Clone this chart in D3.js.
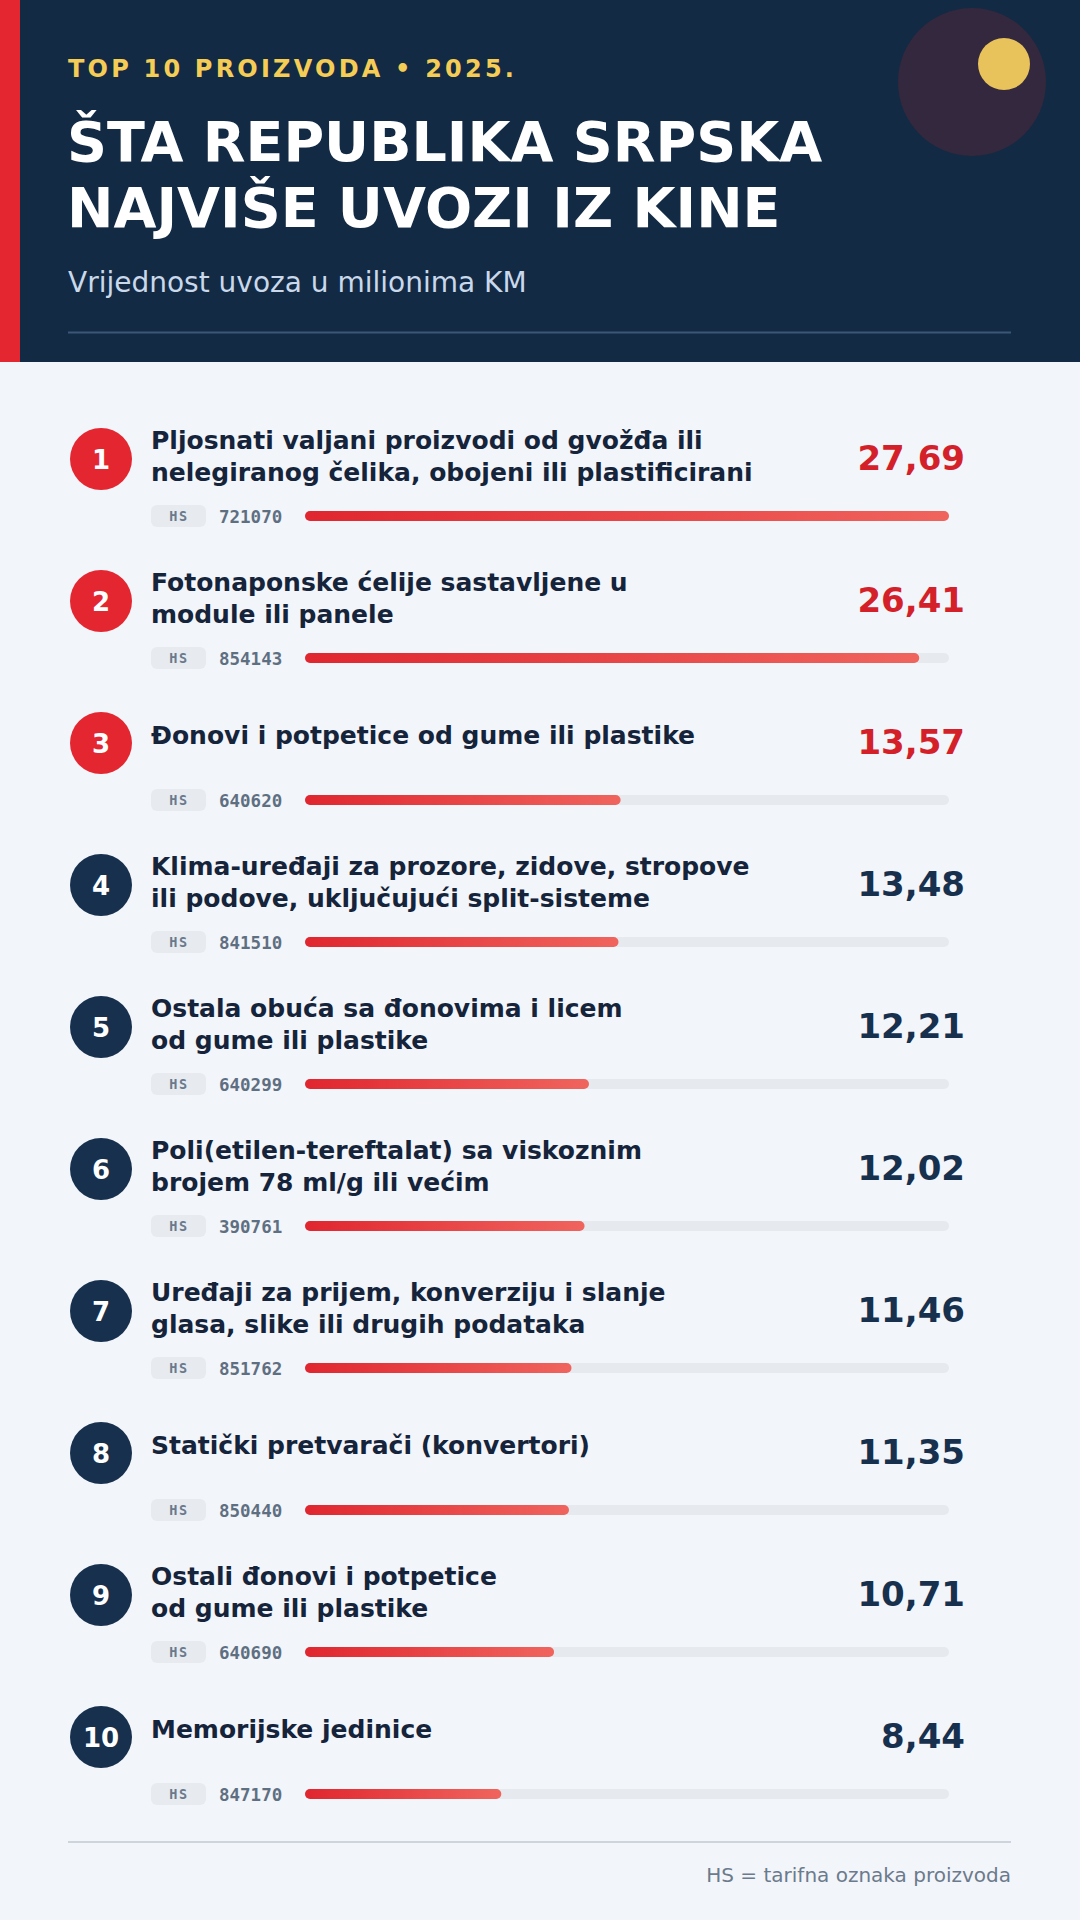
<!DOCTYPE html>
<html>
<head>
<meta charset="utf-8">
<script src="https://cdn.jsdelivr.net/npm/d3@7"></script>
<style>
    html, body { margin: 0; padding: 0; background: #f2f5f9; }
    svg { display: block; font-family: "DejaVu Sans", sans-serif; }
</style>
</head>
<body>
<div id="chart"></div>
<script>
const ranks = [1, 2, 3, 4, 5, 6, 7, 8, 9, 10];
const products = [
    ["Pljosnati valjani proizvodi od gvožđa ili", "nelegiranog čelika, obojeni ili plastificirani"],
    ["Fotonaponske ćelije sastavljene u", "module ili panele"],
    ["Đonovi i potpetice od gume ili plastike"],
    ["Klima-uređaji za prozore, zidove, stropove", "ili podove, uključujući split-sisteme"],
    ["Ostala obuća sa đonovima i licem", "od gume ili plastike"],
    ["Poli(etilen-tereftalat) sa viskoznim", "brojem 78 ml/g ili većim"],
    ["Uređaji za prijem, konverziju i slanje", "glasa, slike ili drugih podataka"],
    ["Statički pretvarači (konvertori)"],
    ["Ostali đonovi i potpetice", "od gume ili plastike"],
    ["Memorijske jedinice"]
];
const hsCodes = ["721070", "854143", "640620", "841510", "640299", "390761", "851762", "850440", "640690", "847170"];
const values = [27.69, 26.41, 13.57, 13.48, 12.21, 12.02, 11.46, 11.35, 10.71, 8.44];

const width = 1080, height = 1920;
const headerH = 362;

const rows = ranks.map((r, i) => ({ rank: r, lines: products[i], hs: hsCodes[i], value: values[i] }));

const locale = d3.formatLocale({ decimal: ",", thousands: ".", grouping: [3], currency: ["", " KM"] });
const fmt = locale.format(".2f");

const y = d3.scalePoint().domain(ranks).range([459, 1737]);
const x = d3.scaleLinear().domain([0, d3.max(values)]).range([0, 644]);
const barX = 305;

const svg = d3.select("#chart").append("svg")
    .attr("width", width)
    .attr("height", height);

svg.append("rect").attr("width", width).attr("height", height).attr("fill", "#f2f5f9");

// gradient for bars
const defs = svg.append("defs");
const grad = defs.append("linearGradient").attr("id", "barGrad")
    .attr("x1", "0%").attr("x2", "100%").attr("y1", "0%").attr("y2", "0%");
grad.append("stop").attr("offset", "0%").attr("stop-color", "#e0262f");
grad.append("stop").attr("offset", "100%").attr("stop-color", "#f0645e");

// header block
const header = svg.append("g");
header.append("rect").attr("width", width).attr("height", headerH).attr("fill", "#132a44");
header.append("rect").attr("width", 20).attr("height", headerH).attr("fill", "#e3262f");
header.append("circle").attr("cx", 972).attr("cy", 82).attr("r", 74).attr("fill", "#33283d");
header.append("circle").attr("cx", 1004).attr("cy", 64).attr("r", 26).attr("fill", "#e8c25a");

header.append("text")
    .attr("x", 68).attr("y", 77)
    .attr("fill", "#f5cd55")
    .attr("font-size", 24).attr("font-weight", "bold")
    .attr("letter-spacing", 3.2)
    .text("TOP 10 PROIZVODA • 2025.");

header.append("text")
    .attr("x", 67).attr("y", 161)
    .attr("fill", "#ffffff")
    .attr("font-size", 55.5).attr("font-weight", "bold")
    .selectAll("tspan")
    .data(["ŠTA REPUBLIKA SRPSKA", "NAJVIŠE UVOZI IZ KINE"])
    .join("tspan")
    .attr("x", 67)
    .attr("dy", (d, i) => i === 0 ? 0 : 66)
    .text(d => d);

header.append("text")
    .attr("x", 68).attr("y", 292)
    .attr("fill", "#c9d8ea")
    .attr("font-size", 28)
    .text("Vrijednost uvoza u milionima KM");

header.append("line")
    .attr("x1", 68).attr("x2", 1011).attr("y1", 332.5).attr("y2", 332.5)
    .attr("stroke", "#3b5677").attr("stroke-width", 2);

// rows
const row = svg.append("g").selectAll("g")
    .data(rows)
    .join("g")
    .attr("transform", d => `translate(0,${y(d.rank)})`);

row.append("circle")
    .attr("cx", 101).attr("cy", 0).attr("r", 31)
    .attr("fill", d => d.rank <= 3 ? "#e3262f" : "#17304d");

row.append("text")
    .attr("x", 101).attr("y", 9.5)
    .attr("text-anchor", "middle")
    .attr("fill", "#ffffff")
    .attr("font-size", 26).attr("font-weight", "bold")
    .text(d => d.rank);

// single-line names sit a bit lower than two-line ones
row.append("text")
    .attr("x", 151).attr("y", d => d.lines.length > 1 ? -10 : 1)
    .attr("fill", "#15243a")
    .attr("font-size", 25).attr("font-weight", "bold")
    .selectAll("tspan")
    .data(d => d.lines)
    .join("tspan")
    .attr("x", 151)
    .attr("dy", (d, i) => i === 0 ? 0 : 32)
    .text(d => d);

row.append("text")
    .attr("x", 965).attr("y", 11)
    .attr("text-anchor", "end")
    .attr("fill", d => d.rank <= 3 ? "#d42129" : "#17304d")
    .attr("font-size", 34).attr("font-weight", "bold")
    .text(d => fmt(d.value));

// hs badge
row.append("rect")
    .attr("x", 151).attr("y", 46).attr("width", 55).attr("height", 22).attr("rx", 6)
    .attr("fill", "#e7ebf0");

row.append("text")
    .attr("x", 179).attr("y", 61.5)
    .attr("text-anchor", "middle")
    .attr("fill", "#6a7a8c")
    .attr("font-family", "'DejaVu Sans Mono', monospace")
    .attr("font-size", 13.5).attr("font-weight", "bold")
    .attr("letter-spacing", 1.5)
    .text("HS");

row.append("text")
    .attr("x", 219).attr("y", 64)
    .attr("fill", "#5f6f82")
    .attr("font-family", "'DejaVu Sans Mono', monospace")
    .attr("font-size", 17.5).attr("font-weight", "bold")
    .text(d => d.hs);

// bar track and bar
row.append("rect")
    .attr("x", barX).attr("y", 52).attr("height", 10).attr("rx", 5)
    .attr("width", x(d3.max(values)))
    .attr("fill", "#e6eaef");

row.append("rect")
    .attr("x", barX).attr("y", 52).attr("height", 10).attr("rx", 5)
    .attr("width", d => x(d.value))
    .attr("fill", "url(#barGrad)");

// footer
svg.append("line")
    .attr("x1", 68).attr("x2", 1011).attr("y1", 1842).attr("y2", 1842)
    .attr("stroke", "#cdd4dc").attr("stroke-width", 2);

svg.append("text")
    .attr("x", 1011).attr("y", 1882)
    .attr("text-anchor", "end")
    .attr("fill", "#6b7a8c")
    .attr("font-size", 20)
    .text("HS = tarifna oznaka proizvoda");
</script>
</body>
</html>
